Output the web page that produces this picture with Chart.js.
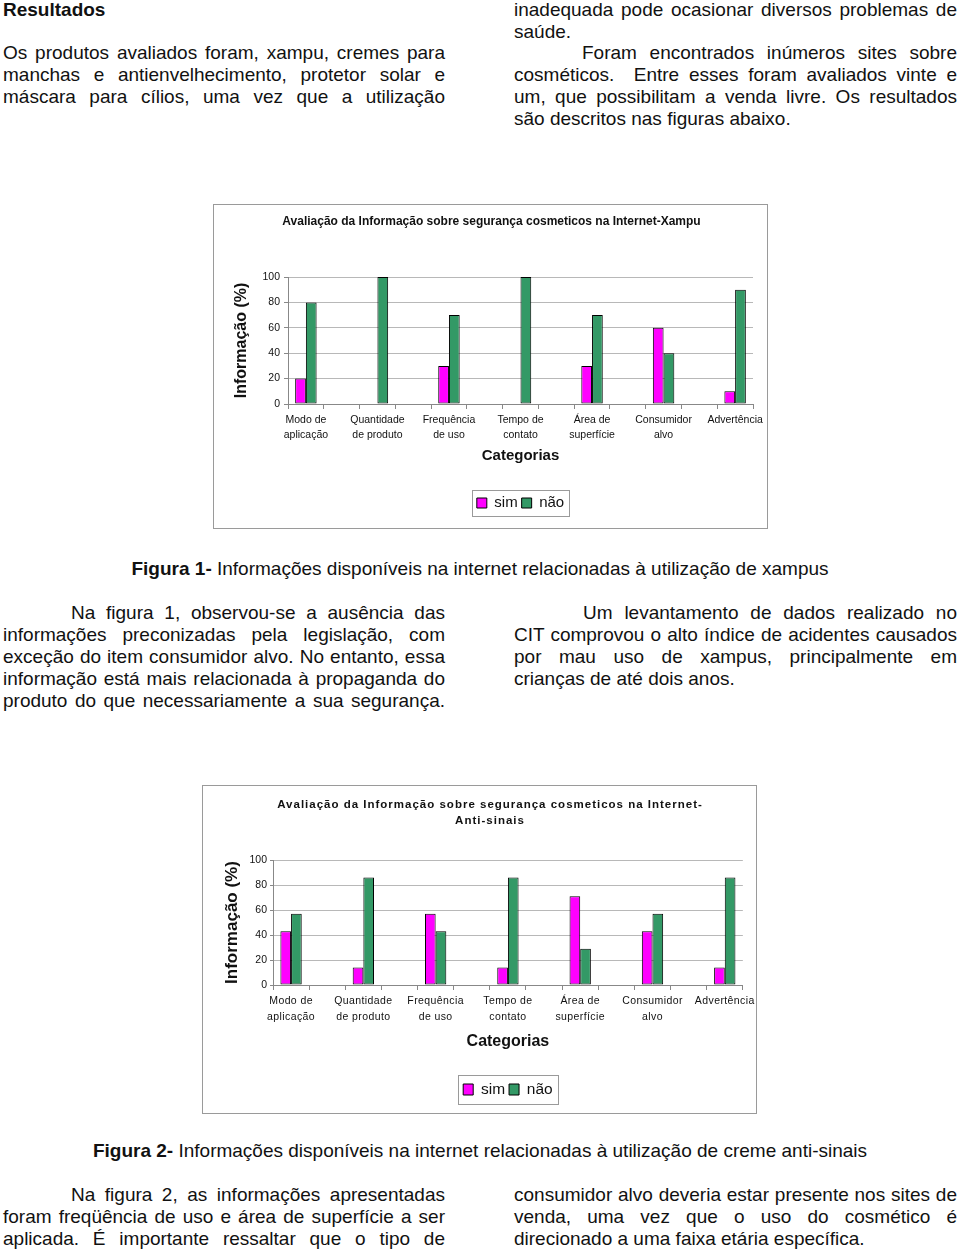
<!DOCTYPE html>
<html><head><meta charset="utf-8">
<script src="https://cdn.jsdelivr.net/npm/chart.js@4/dist/chart.umd.min.js"></script>
<style>
html,body{margin:0;padding:0;background:#fff;}
body{width:960px;height:1251px;position:relative;overflow:hidden;font-family:'Liberation Sans',Arial,sans-serif;color:#111;}
.l{position:absolute;height:22px;line-height:22px;font-size:19px;white-space:nowrap;}
.j{text-align:justify;text-align-last:justify;}
.c{left:0;width:960px;text-align:center;}
.box{position:absolute;border:1px solid #9a9a9a;box-sizing:border-box;background:#fff;}
.box canvas{position:absolute;left:0;top:0;}
</style></head><body>

<div class="l" style="left:3px;top:-1px;font-weight:bold;">Resultados</div>
<div class="l j" style="left:3px;width:442px;top:42px;">Os produtos avaliados foram, xampu, cremes para</div>
<div class="l j" style="left:3px;width:442px;top:64px;">manchas e antienvelhecimento, protetor solar e</div>
<div class="l j" style="left:3px;width:442px;top:86px;">máscara para cílios, uma vez que a utilização</div>

<div class="l j" style="left:514px;width:443px;top:-1px;">inadequada pode ocasionar diversos problemas de</div>
<div class="l" style="left:514px;top:21px;">saúde.</div>
<div class="l j" style="left:582px;width:375px;top:42px;">Foram encontrados inúmeros sites sobre</div>
<div class="l j" style="left:514px;width:443px;top:64px;">cosméticos.&nbsp; Entre esses foram avaliados vinte e</div>
<div class="l j" style="left:514px;width:443px;top:86px;">um, que possibilitam a venda livre. Os resultados</div>
<div class="l" style="left:514px;top:108px;">são descritos nas figuras abaixo.</div>

<div class="box" style="left:213px;top:204px;width:555px;height:325px;"><canvas id="c1" width="553" height="323"></canvas></div>

<div class="l c" style="top:558px;"><b>Figura 1-</b> Informações disponíveis na internet relacionadas à utilização de xampus</div>

<div class="l j" style="left:71px;width:374px;top:602px;">Na figura 1, observou-se a ausência das</div>
<div class="l j" style="left:3px;width:442px;top:624px;">informações preconizadas pela legislação, com</div>
<div class="l j" style="left:3px;width:442px;top:646px;">exceção do item consumidor alvo. No entanto, essa</div>
<div class="l j" style="left:3px;width:442px;top:668px;">informação está mais relacionada à propaganda do</div>
<div class="l j" style="left:3px;width:442px;top:690px;">produto do que necessariamente a sua segurança.</div>

<div class="l j" style="left:583px;width:374px;top:602px;">Um levantamento de dados realizado no</div>
<div class="l j" style="left:514px;width:443px;top:624px;">CIT comprovou o alto índice de acidentes causados</div>
<div class="l j" style="left:514px;width:443px;top:646px;">por mau uso de xampus, principalmente em</div>
<div class="l" style="left:514px;top:668px;">crianças de até dois anos.</div>

<div class="box" style="left:202px;top:785px;width:555px;height:329px;"><canvas id="c2" width="553" height="327"></canvas></div>

<div class="l c" style="top:1140px;"><b>Figura 2-</b> Informações disponíveis na internet relacionadas à utilização de creme anti-sinais</div>

<div class="l j" style="left:71px;width:374px;top:1184px;">Na figura 2, as informações apresentadas</div>
<div class="l j" style="left:3px;width:442px;top:1206px;">foram freqüência de uso e área de superfície a ser</div>
<div class="l j" style="left:3px;width:442px;top:1228px;">aplicada. É importante ressaltar que o tipo de</div>

<div class="l j" style="left:514px;width:443px;top:1184px;">consumidor alvo deveria estar presente nos sites de</div>
<div class="l j" style="left:514px;width:443px;top:1206px;">venda, uma vez que o uso do cosmético é</div>
<div class="l" style="left:514px;top:1228px;">direcionado a uma faixa etária específica.</div>

<script>
// ---- data ----
const categories = [['Modo de','aplicação'], ['Quantidade','de produto'], ['Frequência','de uso'], ['Tempo de','contato'], ['Área de','superfície'], ['Consumidor','alvo'], ['Advertência']];
const seriesNames = ['sim', 'não'];
const xampuSim = [20, 0, 30, 0, 30, 60, 10];
const xampuNao = [80, 100, 70, 100, 70, 40, 90];
const antiSim = [43, 14, 57, 14, 71, 43, 14];
const antiNao = [57, 86, 43, 86, 29, 57, 86];
const yTicks = [0, 20, 40, 60, 80, 100];
const title1 = 'Avaliação da Informação sobre segurança cosmeticos na Internet-Xampu';
const title2 = ['Avaliação da Informação sobre segurança cosmeticos na Internet-', 'Anti-sinais'];
const yTitle = 'Informação (%)';
const xTitle = 'Categorias';

// ---- styling ----
const FONT = "'Liberation Sans', Arial, sans-serif";
Chart.defaults.font.family = FONT;
Chart.defaults.color = '#111';
const MAGENTA = '#FF00FF', GREEN = '#339966';

// the original Excel chart has an empty slot between every category
function slotData(arr){ const out=[]; arr.forEach((v,i)=>{ if(i) out.push(null); out.push(v); }); return out; }
function slotLabels(){ const out=[]; categories.forEach((c,i)=>{ if(i) out.push(''); out.push(c); }); return out; }

const legendFrame = {
  id:'legendFrame',
  afterDraw(chart, args, o){
    const lg = chart.legend; if(!lg || !lg.legendHitBoxes || !lg.legendHitBoxes.length) return;
    let l=Infinity,r=-Infinity,t=Infinity,b=-Infinity;
    lg.legendHitBoxes.forEach(h=>{ l=Math.min(l,h.left); r=Math.max(r,h.left+h.width); t=Math.min(t,h.top); b=Math.max(b,h.top+h.height); });
    const ctx = chart.ctx; ctx.save(); ctx.strokeStyle='#9a9a9a'; ctx.lineWidth=1;
    const x0=Math.round(l-o.padL), y0=Math.round(t-o.padT), x1=Math.round(r+o.padR), y1=Math.round(b+o.padB);
    ctx.strokeRect(x0+0.5, y0+0.5, x1-x0, y1-y0);
    ctx.restore();
  }
};

const spacing = {
  id:'spacing',
  afterInit(chart, args, o){
    if(!o || !chart.titleBlock) return;
    const tb = chart.titleBlock; const orig = tb.draw;
    tb.draw = function(...a){ const c=chart.ctx; c.save(); c.translate(o.dx||0,0); if(o.title) c.letterSpacing=o.title+'px'; orig.apply(this,a); c.restore(); };
  },
  afterLayout(chart, args, o){
    if(!o || !o.ticks) return;
    const s = chart.scales.x; if(!s || s._spaced) return; s._spaced = true;
    const orig = s.drawLabels;
    s.drawLabels = function(...a){ const c=chart.ctx; c.save(); c.letterSpacing=o.ticks+'px'; orig.apply(this,a); c.restore(); };
  }
};

function makeChart(id, sim, nao, cfg){
  return new Chart(document.getElementById(id), {
    type:'bar',
    data:{
      labels: slotLabels(),
      datasets:[
        {label:seriesNames[0], data:slotData(sim), backgroundColor:MAGENTA, borderColor:'#000', borderWidth:1, borderSkipped:false},
        {label:seriesNames[1], data:slotData(nao), backgroundColor:GREEN, borderColor:'#000', borderWidth:1, borderSkipped:false}
      ]
    },
    options:{
      responsive:false, animation:false, devicePixelRatio:1,
      categoryPercentage: cfg.catPct, barPercentage:1,
      layout:{padding:{left:0, right:cfg.padR, top:0, bottom:cfg.padB}},
      plugins:{
        title:{display:true, text:cfg.title, color:'#111', font:{size:cfg.titleSize, weight:'bold', lineHeight:cfg.titleLH}, padding:{top:cfg.titlePT, bottom:cfg.titlePB}},
        legend:{position:'bottom', fullSize:false, labels:{boxWidth:10, boxHeight:cfg.boxH, font:{size:cfg.legSize}, color:'#111', padding:4}},
        tooltip:{enabled:false},
        legendFrame: cfg.frame,
        spacing: cfg.spacing
      },
      scales:{
        x:{
          type:'category', offset:true,
          afterFit: s => { s.height = cfg.xH; },
          ticks:{autoSkip:false, maxRotation:0, minRotation:0, color:'#111', padding:cfg.xPad, font:{size:10.5, lineHeight:cfg.tickLH}},
          grid:{offset:true, drawOnChartArea:false, drawTicks:true, tickLength:5, color:'#888'},
          border:{display:true, color:'#888'},
          title:{display:true, text:xTitle, color:'#111', font:{size:cfg.xTitleSize, weight:'bold'}, padding:{top:0, bottom:cfg.xTitlePB}}
        },
        y:{
          min:0, max:100,
          afterBuildTicks: s => { s.ticks = yTicks.map(v=>({value:v})); },
          afterFit: s => { s.width = cfg.yW; },
          ticks:{color:'#111', padding:cfg.yPad, font:{size:10.5}},
          grid:{color:'#b8b8b8', drawTicks:true, tickLength:cfg.yTL, tickColor:'#888'},
          border:{display:true, color:'#888'},
          title:{display:true, text:yTitle, color:'#111', font:{size:cfg.yTitleSize, weight:'bold'}, padding:{top:cfg.yTitlePT, bottom:0}}
        }
      }
    },
    plugins:[legendFrame, spacing]
  });
}

makeChart('c1', xampuSim, xampuNao, {
  catPct:0.6, padR:14, padB:7.5,
  title:title1, titleSize:12, titleLH:1.2, titlePT:9, titlePB:48.6,
  boxH:10, legSize:15,
  frame:{padL:5, padR:5, padT:5.5, padB:5.5},
  xH:87.5, xPad:3.5, tickLH:15/10.5, xTitleSize:15, xTitlePB:27.1,
  yW:74, yPad:4, yTL:4, yTitleSize:16, yTitlePT:18,
  spacing:{dx:8}
});

makeChart('c2', antiSim, antiNao, {
  catPct:0.59, padR:13, padB:5.75,
  title:title2, titleSize:11.5, titleLH:16/11.5, titlePT:11, titlePB:31,
  boxH:11, legSize:15.5,
  frame:{padL:5, padR:5, padT:6.75, padB:6.75},
  xH:92.75, xPad:3, tickLH:16/10.5, xTitleSize:16, xTitlePB:26.15,
  yW:70, yPad:3, yTL:3, yTitleSize:17, yTitlePT:18.8,
  spacing:{dx:17, title:1, ticks:0.4}
});
</script>
</body></html>
